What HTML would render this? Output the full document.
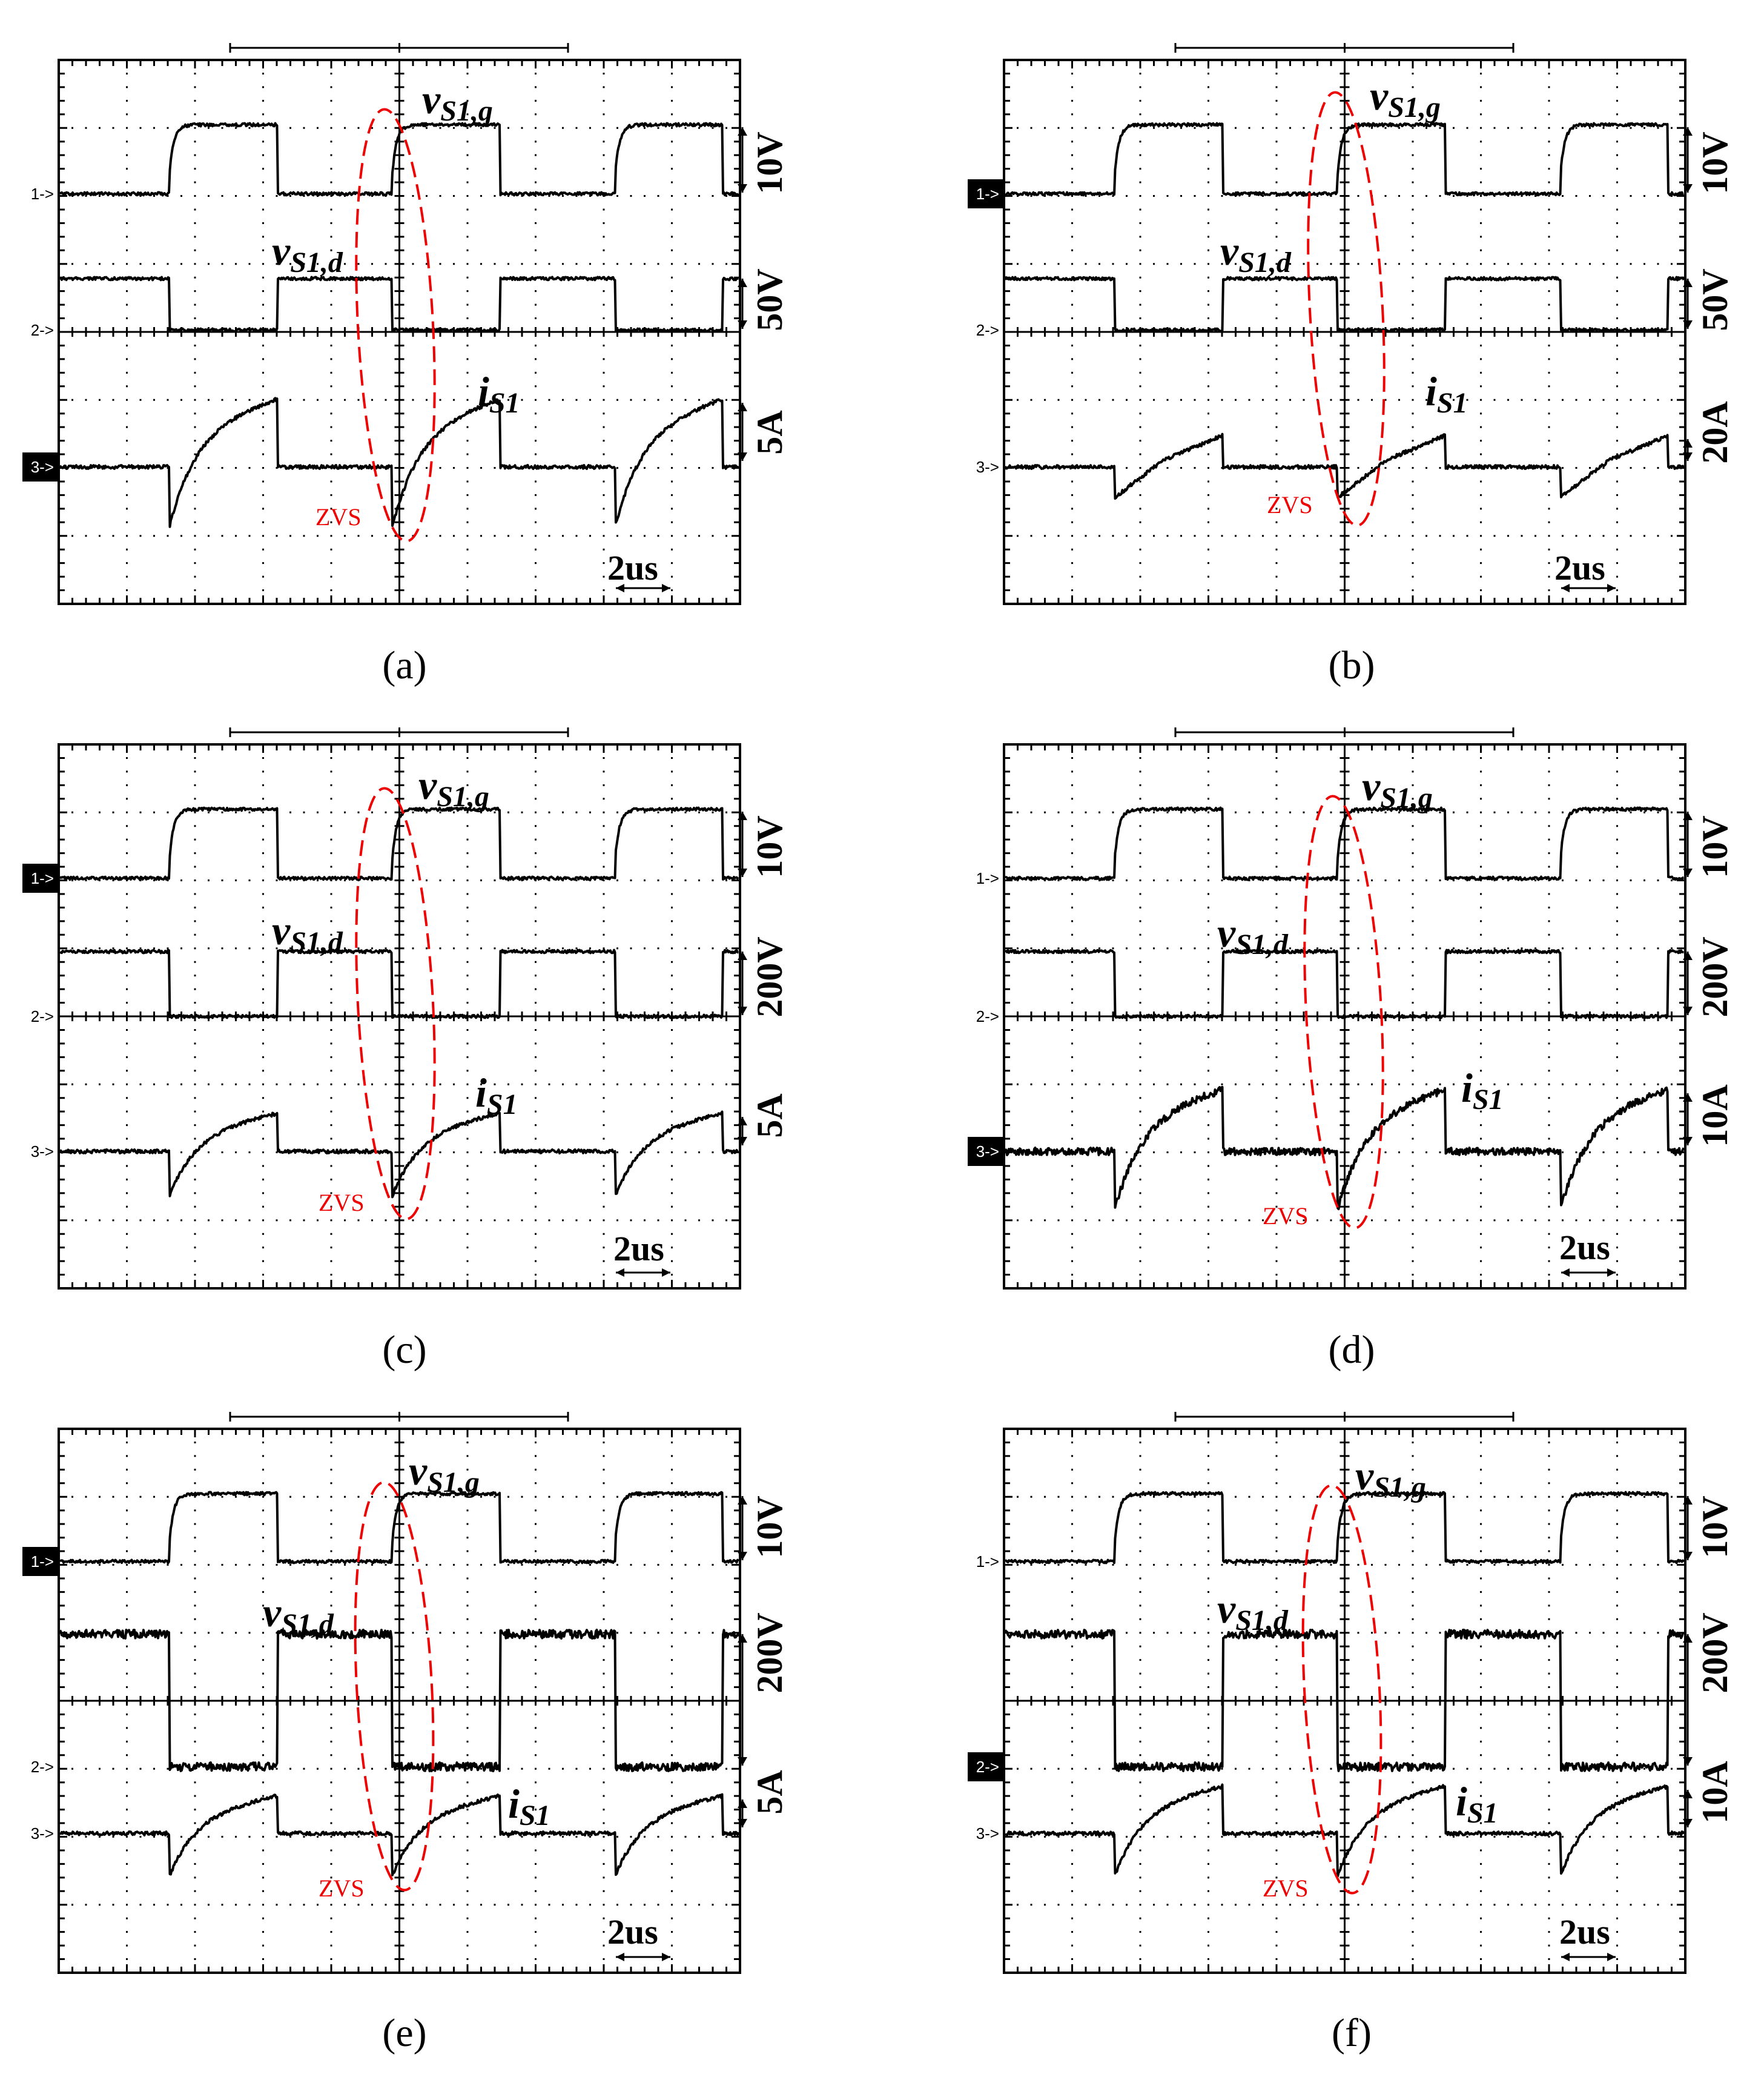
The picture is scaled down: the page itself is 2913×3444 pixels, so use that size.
<!DOCTYPE html>
<html><head><meta charset="utf-8">
<style>
html,body{margin:0;padding:0;background:#fff;}
svg{display:block;}
</style></head>
<body>
<svg id="s" xmlns="http://www.w3.org/2000/svg" width="2913" height="3444" viewBox="0 0 2913 3444">
<rect width="2913" height="3444" fill="#fff"/>
</svg>
<script>
(function(){
var NS="http://www.w3.org/2000/svg";
var svg=document.getElementById('s');
function el(p,tag,a,txt){var e=document.createElementNS(NS,tag);for(var k in a)e.setAttribute(k,a[k]);if(txt!==undefined)e.textContent=txt;p.appendChild(e);return e;}
var seed=7;function rnd(){seed=(seed*9301+49297)%233280;return seed/233280;}
var W=1125,H=898,DX=112.5,DY=112.25;
var P=[
{ox:97,oy:99,lab:'(a)',lx:668,ly:1120,g:221,gh:107,dh:361,dl:446,c2:446,ib:672,dip:770,pk:560,sc:['10V','50V','5A'],sy:[170,396,615],el:[556,438,62,357],vg:[600,68],vd:[352,318],is:[692,550],zv:[424,768],us:[906,858],n:6},
{ox:1658,oy:99,lab:'(b)',lx:2232,ly:1120,g:221,gh:107,dh:361,dl:446,c2:446,ib:672,dip:722,pk:620,sc:['10V','50V','20A'],sy:[170,396,615],el:[565,411,60,358],vg:[604,62],vd:[357,318],is:[696,550],zv:[434,748],us:[909,858],n:6,shapeB:1},
{ox:97,oy:1229,lab:'(c)',lx:668,ly:2250,g:221,gh:107,dh:342,dl:449,c2:449,ib:672,dip:745,pk:609,sc:['10V','200V','5A'],sy:[169,384,613],el:[556,428,62,356],vg:[594,70],vd:[352,310],is:[688,578],zv:[429,770],us:[916,852],n:6},
{ox:1658,oy:1229,lab:'(d)',lx:2232,ly:2250,g:221,gh:107,dh:342,dl:449,c2:449,ib:672,dip:768,pk:570,sc:['10V','200V','10A'],sy:[169,384,613],el:[561,442,62,357],vg:[591,72],vd:[352,314],is:[755,570],zv:[427,792],us:[917,850],n:12},
{ox:97,oy:2359,lab:'(e)',lx:668,ly:3378,g:219,gh:107,dh:339,dl:558,c2:558,ib:668,dip:738,pk:606,sc:['10V','200V','5A'],sy:[162,370,600],el:[554,425,62,337],vg:[578,72],vd:[337,306],is:[742,622],zv:[429,772],us:[906,850],n:6,vn:14},
{ox:1658,oy:2359,lab:'(f)',lx:2232,ly:3378,g:219,gh:107,dh:339,dl:558,c2:558,ib:668,dip:738,pk:590,sc:['10V','200V','10A'],sy:[162,370,600],el:[558,430,62,337],vg:[580,80],vd:[352,300],is:[746,618],zv:[427,772],us:[917,850],n:6,vn:14}
];
var boxMap=[[2],[0],[0],[2],[0],[1]];
var ser='"Liberation Serif",serif', sans='"Liberation Sans",sans-serif';
P.forEach(function(p,pi){
 var g=el(svg,'g',{transform:'translate('+p.ox+','+p.oy+')'});
 var d='';
 for(var i=1;i<10;i++){if(i==5)continue;for(var y=22.45;y<H-1;y+=22.45){d+='M'+(i*DX-1.5)+' '+(y-1.5)+'h3v3h-3z';}}
 for(var j=1;j<8;j++){if(j==4)continue;for(var x=22.5;x<W-1;x+=22.5){d+='M'+(x-1.5)+' '+(j*DY-1.5)+'h3v3h-3z';}}
 el(g,'path',{d:d,fill:'#000'});
 var t='';
 for(var x=22.5;x<W-1;x+=22.5){var L=(Math.round(x/22.5)%5==0)?14:10;t+='M'+x+' 0v'+L+'M'+x+' '+H+'v-'+L+'M'+x+' '+(H/2-8)+'v16';}
 for(var y=22.45;y<H-1;y+=22.45){var L=(Math.round(y/22.45)%5==0)?14:10;t+='M0 '+y+'h'+L+'M'+W+' '+y+'h-'+L+'M'+(W/2-8)+' '+y+'h16';}
 t+='M'+(W/2)+' 0V'+H+'M0 '+(H/2)+'H'+W;
 el(g,'path',{d:t,stroke:'#000','stroke-width':3,fill:'none'});
 el(g,'rect',{x:0,y:0,width:W,height:H,fill:'none',stroke:'#000','stroke-width':4});
 el(g,'path',{d:'M283 -20H841M283 -28v16M841 -28v16M562.5 -28v16',stroke:'#000','stroke-width':3,fill:'none'});
 var mk=[['1->',p.g],['2->',p.c2],['3->',p.ib]];
 mk.forEach(function(m,mi){
  var boxed=boxMap[pi].indexOf(mi)>=0;
  if(boxed){el(g,'rect',{x:-60,y:m[1]-24,width:60,height:48,fill:'#000'});}
  el(g,'text',{x:-8,y:m[1]+9,'font-family':sans,'font-size':26,'text-anchor':'end',fill:boxed?'#fff':'#000'},m[0]);
 });
 var rises=[183,551,919],hw=178;
 function isHigh(x){for(var k=0;k<3;k++){if(x>=rises[k]&&x<rises[k]+hw)return k;}return -1;}
 var g1='',g2='',g3='';
 var n=p.n,vn=p.vn||5;
 for(var x=2;x<=W-2;x+=1.5){
  var k=isHigh(x);
  var yg,yd,yi;
  if(k>=0){var s=(x-rises[k])/hw;yg=p.gh+ (p.g-p.gh)*Math.exp(-s*25)*0.7;yd=p.dl;
   var f=p.shapeB?(s<0.45?s/0.45*0.6:0.6+(s-0.45)/0.55*0.4):(0.75*(1-Math.exp(-4*s))/(1-Math.exp(-4))+0.25*s);
   yi=p.dip-(p.dip-p.pk)*f;}
  else{yg=p.g;yd=p.dh;yi=p.ib;}
  g1+=(x==2?'M':'L')+x+' '+(yg+(rnd()-0.5)*5);
  g2+=(x==2?'M':'L')+x+' '+(yd+(rnd()-0.5)*vn);
  g3+=(x==2?'M':'L')+x+' '+(yi+(rnd()-0.5)*n);
 }
 [g1,g2,g3].forEach(function(pd){el(g,'path',{d:pd,stroke:'#000','stroke-width':4,fill:'none','stroke-linejoin':'round'});});
 var ar=[[p.gh+4,p.g-2],[p.dh,p.dl-2],[p.pk+6,p.ib-10]];
 ar.forEach(function(a,ai){
  el(g,'path',{d:'M1129 '+a[0]+'V'+a[1],stroke:'#000','stroke-width':3});
  el(g,'path',{d:'M1121 '+(a[0]+14)+'L1129 '+a[0]+'L1137 '+(a[0]+14)+'ZM1121 '+(a[1]-14)+'L1129 '+a[1]+'L1137 '+(a[1]-14)+'Z',fill:'#000'});
  el(g,'text',{x:0,y:0,transform:'translate(1194,'+p.sy[ai]+') rotate(-90)','font-family':ser,'font-weight':'bold','font-size':60,'text-anchor':'middle'},p.sc[ai]);
 });
 el(g,'ellipse',{cx:p.el[0],cy:p.el[1],rx:p.el[2],ry:p.el[3],fill:'none',stroke:'#e00','stroke-width':4,'stroke-dasharray':'26 12',transform:'rotate(-3 '+p.el[0]+' '+p.el[1]+')'});
 function lab(pos,main,sub){var tx=el(g,'text',{x:pos[0],y:pos[1]+20,'font-family':ser,'font-weight':'bold','font-style':'italic','font-size':68});
  el(tx,'tspan',{},main);var ts=el(tx,'tspan',{'font-size':48,dy:12});ts.textContent=sub;}
 lab(p.vg,'v','S1,g');lab(p.vd,'v','S1,d');lab(p.is,'i','S1');
 el(g,'text',{x:p.zv[0],y:p.zv[1],'font-family':ser,'font-size':40,fill:'#e00'},'ZVS');
 el(g,'text',{x:p.us[0],y:p.us[1],'font-family':ser,'font-weight':'bold','font-size':58},'2us');
 el(g,'path',{d:'M920 872H1010',stroke:'#000','stroke-width':3});
 el(g,'path',{d:'M920 872l14 -7v14zM1010 872l-14 -7v14z',fill:'#000'});
 el(svg,'text',{x:p.lx,y:p.ly,'font-family':ser,'font-size':66,'text-anchor':'middle'},p.lab);
});
})();
</script>
</body></html>
